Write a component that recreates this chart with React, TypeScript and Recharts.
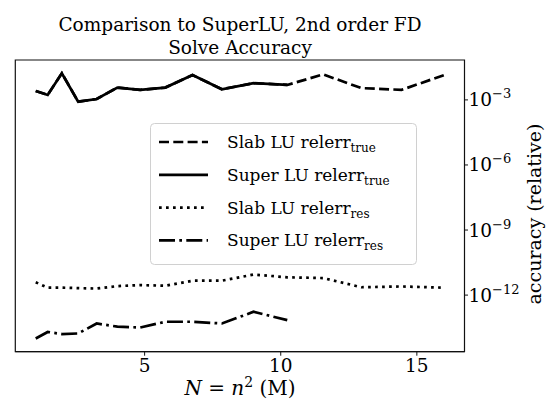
import React from "react";
import {
  LineChart,
  Line,
  XAxis,
  YAxis,
  Legend,
  ReferenceArea,
} from "recharts";

// N = n^2 (millions), n = 1.0 .. 4.0 step 0.2
const sizes = [1, 1.44, 1.96, 2.56, 3.24, 4, 4.84, 5.76, 6.76, 7.84, 9, 10.24, 11.56, 12.96, 14.44, 16];

// relative error vs true solution
const slabTrue = [2.6e-3, 1.7e-3, 1.7e-2, 8.3e-4, 1.1e-3, 3.7e-3, 2.9e-3, 3.7e-3, 1.4e-2, 3.1e-3, 5.9e-3, 4.9e-3, 1.5e-2, 3.5e-3, 2.9e-3, 1.4e-2];
const superTrue = [2.6e-3, 1.7e-3, 1.7e-2, 8.3e-4, 1.1e-3, 3.7e-3, 2.9e-3, 3.7e-3, 1.4e-2, 3.1e-3, 5.9e-3, 4.9e-3];

// relative residual
const slabRes = [3.9e-12, 2.2e-12, 2.2e-12, 2.1e-12, 2.0e-12, 2.6e-12, 2.9e-12, 2.7e-12, 4.6e-12, 4.6e-12, 8.9e-12, 6.6e-12, 6.1e-12, 2.3e-12, 2.5e-12, 2.2e-12];
const superRes = [1.0e-14, 2.0e-14, 1.6e-14, 1.7e-14, 4.9e-14, 3.5e-14, 3.2e-14, 5.9e-14, 5.9e-14, 4.9e-14, 1.7e-13, 7.0e-14];

const xTicks = [5, 10, 15];
const yTicks = [1e-12, 1e-9, 1e-6, 1e-3];

const legendItems = [
  { label: "Slab LU relerr", sub: "true", dash: "10 4.3" },
  { label: "Super LU relerr", sub: "true", dash: undefined },
  { label: "Slab LU relerr", sub: "res", dash: "2.7 4.3" },
  { label: "Super LU relerr", sub: "res", dash: "16 4.3 2.7 4.3" },
];

const FONT = "'DejaVu Serif', serif";
const X_DOMAIN = [0.25, 16.75];
const Y_DOMAIN = [Math.pow(10, -14.61), Math.pow(10, -1.16)];

const data = sizes.map((N, i) => ({
  N,
  slabTrue: slabTrue[i],
  superTrue: superTrue[i],
  slabRes: slabRes[i],
  superRes: superRes[i],
}));

const XTick = (props: any) => {
  const { x, y, payload } = props;
  return (
    <text x={x} y={y + 14} textAnchor="middle" fontFamily={FONT} fontSize={18.5} fill="#000">
      {payload.value}
    </text>
  );
};

const YTick = (props: any) => {
  const { x, y, payload } = props;
  const exp = Math.round(Math.log10(payload.value));
  return (
    <text x={x} y={y + 6.5} textAnchor="start" fontFamily={FONT} fontSize={18.5} fill="#000">
      10
      <tspan dy={-8} fontSize={13}>
        {"\u2212" + Math.abs(exp)}
      </tspan>
    </text>
  );
};

const LegendBox = () => {
  const rows = [19, 51.8, 84.6, 117.3];
  return (
    <svg width={267} height={142} style={{ display: "block" }}>
      <rect x={0.5} y={0.5} width={266} height={141} rx={4} fill="rgba(255,255,255,0.8)" stroke="#d0d0d0" />
      {legendItems.map((item, i) => (
        <g key={i}>
          <line x1={9} x2={58} y1={rows[i]} y2={rows[i]} stroke="#000" strokeWidth={2.7} strokeDasharray={item.dash} />
          <text x={77} y={rows[i] + 6} fontFamily={FONT} fontSize={17} fill="#000">
            {item.label}
            <tspan dy={4} fontSize={12}>
              {item.sub}
            </tspan>
          </text>
        </g>
      ))}
    </svg>
  );
};

export default function App() {
  return (
    <div style={{ position: "relative", width: 549, height: 408, background: "#fff" }}>
      <style>{"body{margin:0}"}</style>
      <div
        style={{
          position: "absolute",
          left: 0,
          width: 480,
          top: 13,
          textAlign: "center",
          fontFamily: FONT,
          fontSize: 18.5,
          lineHeight: "23px",
          color: "#000",
        }}
      >
        Comparison to SuperLU, 2nd order FD
        <br />
        Solve Accuracy
      </div>
      <LineChart
        width={549}
        height={408}
        data={data}
        margin={{ top: 60, right: 24.5, bottom: 26.3, left: 15.3 }}
      >
        <ReferenceArea
          x1={X_DOMAIN[0]}
          x2={X_DOMAIN[1]}
          y1={Y_DOMAIN[0]}
          y2={Y_DOMAIN[1]}
          fill="none"
          stroke="#111"
          strokeWidth={1.2}
          ifOverflow="visible"
        />
        <XAxis
          dataKey="N"
          type="number"
          domain={X_DOMAIN}
          ticks={xTicks}
          allowDataOverflow
          height={30}
          tickSize={4}
          tickMargin={2}
          stroke="#111"
          tick={<XTick />}
          label={() => (
            <text x={240} y={395} textAnchor="middle" fontFamily={FONT} fontSize={20} fill="#000">
              <tspan fontStyle="italic">N</tspan>
              <tspan> = </tspan>
              <tspan fontStyle="italic">n</tspan>
              <tspan dy={-8} fontSize={14}>2</tspan>
              <tspan dy={8}> (M)</tspan>
            </text>
          )}
        />
        <YAxis
          orientation="right"
          scale="log"
          type="number"
          domain={Y_DOMAIN}
          ticks={yTicks}
          allowDataOverflow
          width={60}
          tickSize={3.5}
          tickMargin={0.5}
          stroke="#111"
          tick={<YTick />}
          label={() => (
            <text
              x={541}
              y={214}
              transform="rotate(-90, 541, 214)"
              textAnchor="middle"
              fontFamily={FONT}
              fontSize={19}
              fill="#000"
            >
              accuracy (relative)
            </text>
          )}
        />
        <Legend
          layout="vertical"
          align="center"
          verticalAlign="middle"
          content={() => <LegendBox />}
          wrapperStyle={{ position: "absolute", left: 150, top: 122.7, width: 267, height: 142 }}
        />
        <Line
          dataKey="slabTrue"
          stroke="#000"
          strokeWidth={2.7}
          strokeDasharray="10 4.3"
          dot={false}
          isAnimationActive={false}
        />
        <Line
          dataKey="superTrue"
          stroke="#000"
          strokeWidth={2.7}
          dot={false}
          isAnimationActive={false}
        />
        <Line
          dataKey="slabRes"
          stroke="#000"
          strokeWidth={2.7}
          strokeDasharray="2.7 4.3"
          dot={false}
          isAnimationActive={false}
        />
        <Line
          dataKey="superRes"
          stroke="#000"
          strokeWidth={2.7}
          strokeDasharray="16 4.3 2.7 4.3"
          dot={false}
          isAnimationActive={false}
        />
      </LineChart>
    </div>
  );
}
